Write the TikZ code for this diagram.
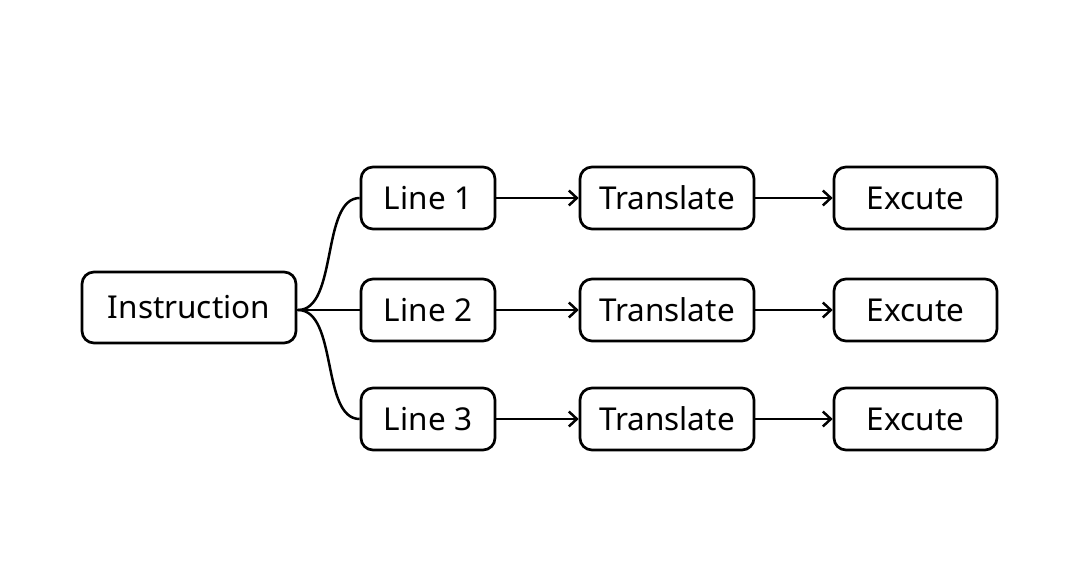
\documentclass[tikz,border=0pt]{standalone}
\usepackage{fontspec}
\setmainfont{Noto Sans}
\usetikzlibrary{arrows.meta}
\begin{document}
\begin{tikzpicture}[x=1pt,y=-1pt,
  box/.style={draw,line width=2.7pt,rounded corners=12pt,minimum height=62pt,inner sep=0pt,font=\fontsize{31.5}{36}\selectfont},
  link/.style={line width=2.5pt},
  arr/.style={link,-{Straight Barb[length=8pt,width=15pt,line width=2.5pt]}}]
\fill[white] (0,0) rectangle (1080,585);
\useasboundingbox (0,0) rectangle (1080,585);
\node[box,minimum width=214pt,minimum height=71pt] (ins) at (189,307.5) {Instruction};
\foreach \i/\y in {1/198,2/310,3/419}{
  \node[box,minimum width=134pt] (l\i) at (428,\y) {Line \i};
  \node[box,minimum width=174pt] (t\i) at (667,\y) {Translate};
  \node[box,minimum width=163pt] (e\i) at (915.5,\y) {Excute};
  \draw[arr] (l\i) -- (t\i);
  \draw[arr] (t\i) -- (e\i);
}
\coordinate (j) at (298,310);
\draw[link] (j) .. controls (338,310) and (321,198) .. (l1.west);
\draw[link] (j) .. controls (338,310) and (321,419) .. (l3.west);
\draw[link] (j) -- (l2.west);
\draw[link] (ins.east |- j) -- (j);
\end{tikzpicture}
\end{document}
